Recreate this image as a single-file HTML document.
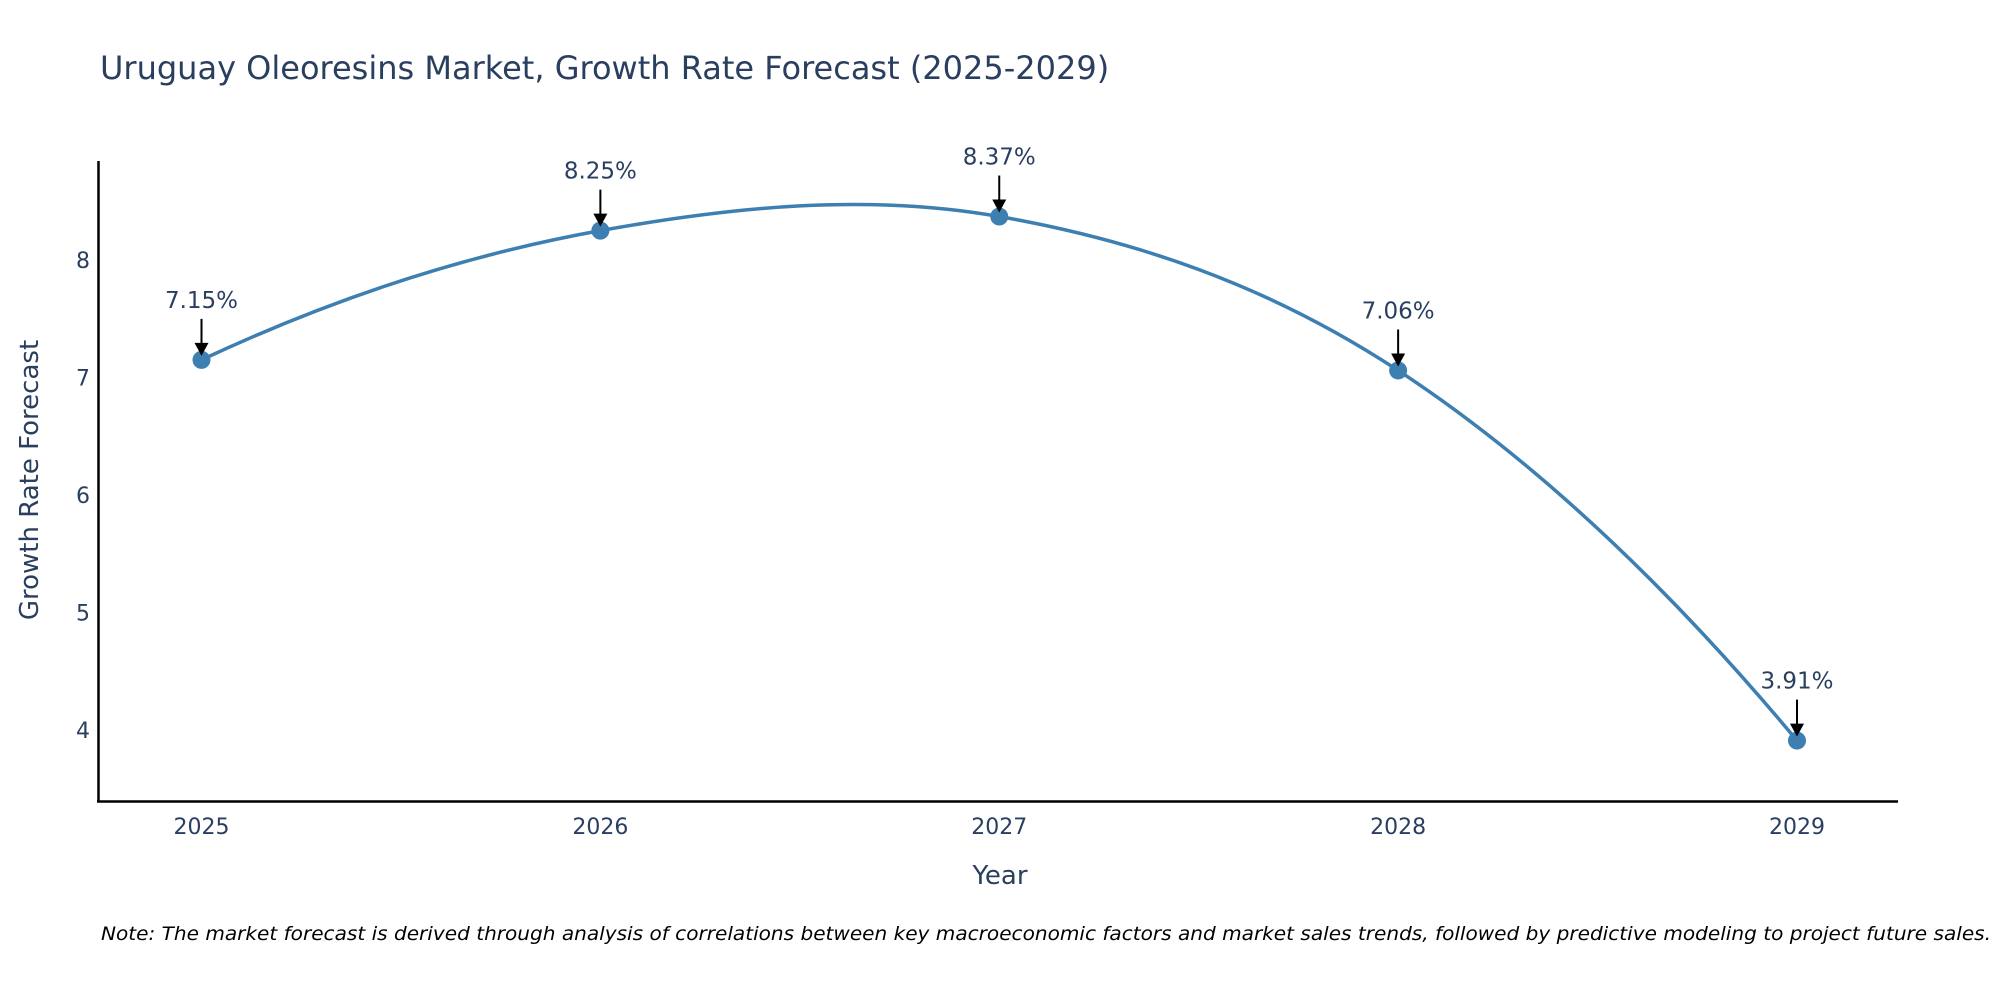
<!DOCTYPE html>
<html><head><meta charset="utf-8"><style>
body{margin:0;background:#fff;}
svg{display:block;font-family:"DejaVu Sans","Liberation Sans",sans-serif;}
</style></head><body>
<svg id="chart" width="2000" height="1000" viewBox="0 0 2000 1000" xmlns="http://www.w3.org/2000/svg">
<text x="100" y="79" font-size="32" fill="#2a3f5f">Uruguay Oleoresins Market, Growth Rate Forecast (2025-2029)</text>
<line x1="98.5" y1="161" x2="98.5" y2="802" stroke="#000" stroke-width="2.5"/>
<line x1="97" y1="801.5" x2="1898" y2="801.5" stroke="#000" stroke-width="2.5"/>
<text transform="translate(38,480) rotate(-90)" text-anchor="middle" font-size="26" fill="#2a3f5f">Growth Rate Forecast</text>
<text x="1000" y="884" text-anchor="middle" font-size="26" fill="#2a3f5f">Year</text>
<text x="1991" y="940" text-anchor="end" font-size="19" font-style="italic" fill="#000" textLength="1890" lengthAdjust="spacingAndGlyphs">Note: The market forecast is derived through analysis of correlations between key macroeconomic factors and market sales trends, followed by predictive modeling to project future sales.</text>
<g id="ticks"></g><g id="series"></g>
</svg>
<script>
const years = [2025, 2026, 2027, 2028, 2029];
const values = [7.15, 8.25, 8.37, 7.06, 3.91];
const labels = ["7.15%", "8.25%", "8.37%", "7.06%", "3.91%"];
const yTicks = [4, 5, 6, 7, 8];

const NS = "http://www.w3.org/2000/svg";
const xS = v => 201.5 + (v - 2025) * (1797 - 201.5) / 4;
const yS = v => 730 - (v - 4) * 117.5;
function mk(tag, attrs, parent) {
  const e = document.createElementNS(NS, tag);
  for (const k in attrs) e.setAttribute(k, attrs[k]);
  parent.appendChild(e);
  return e;
}
const ticks = document.getElementById("ticks");
const series = document.getElementById("series");
yTicks.forEach(t => {
  const e = mk("text", {x: 90, y: yS(t) + 8, "text-anchor": "end", "font-size": 22, fill: "#2a3f5f"}, ticks);
  
  
  e.textContent = t;
});
years.forEach(t => {
  const e = mk("text", {x: xS(t), y: 834, "text-anchor": "middle", "font-size": 22, fill: "#2a3f5f"}, ticks);
  
  
  e.textContent = t;
});
const pts = years.map((y, i) => [xS(y), yS(values[i])]);
let d = "M" + pts[0][0] + "," + pts[0][1];
const tan = pts.map((p, i) => {
  const a = pts[Math.max(0, i - 1)], b = pts[Math.min(pts.length - 1, i + 1)];
  return [(b[0] - a[0]) / 6, (b[1] - a[1]) / 6];
});
const endF = 1.5;
for (let i = 0; i < pts.length - 1; i++) {
  const p = pts[i], q = pts[i + 1];
  if (i === 0) {
    const c = [q[0] - tan[1][0] * endF, q[1] - tan[1][1] * endF];
    d += " Q" + c[0] + "," + c[1] + " " + q[0] + "," + q[1];
  } else if (i === pts.length - 2) {
    const c = [p[0] + tan[i][0] * endF, p[1] + tan[i][1] * endF];
    d += " Q" + c[0] + "," + c[1] + " " + q[0] + "," + q[1];
  } else {
    d += " C" + (p[0] + tan[i][0]) + "," + (p[1] + tan[i][1]) + " " + (q[0] - tan[i + 1][0]) + "," + (q[1] - tan[i + 1][1]) + " " + q[0] + "," + q[1];
  }
}
const line = mk("path", {d: d, fill: "none", stroke: "#3d7fb0", "stroke-width": 3.5}, series);


pts.forEach((p, i) => {
  const c = mk("circle", {cx: p[0], cy: p[1], r: 9, fill: "#3d7fb0"}, series);
  
  
  const a = mk("line", {x1: p[0], y1: p[1] - 41, x2: p[0], y2: p[1] - 14, stroke: "#000", "stroke-width": 2}, series);
  
  
  const h = mk("path", {d: `M${p[0]-7},${p[1]-17} L${p[0]+7},${p[1]-17} L${p[0]},${p[1]-4} z`, fill: "#000"}, series);
  
  
  const t = mk("text", {x: p[0], y: p[1] - 52, "text-anchor": "middle", "font-size": 23, fill: "#2a3f5f"}, series);
  
  
  t.textContent = labels[i];
});
</script>
</body></html>
